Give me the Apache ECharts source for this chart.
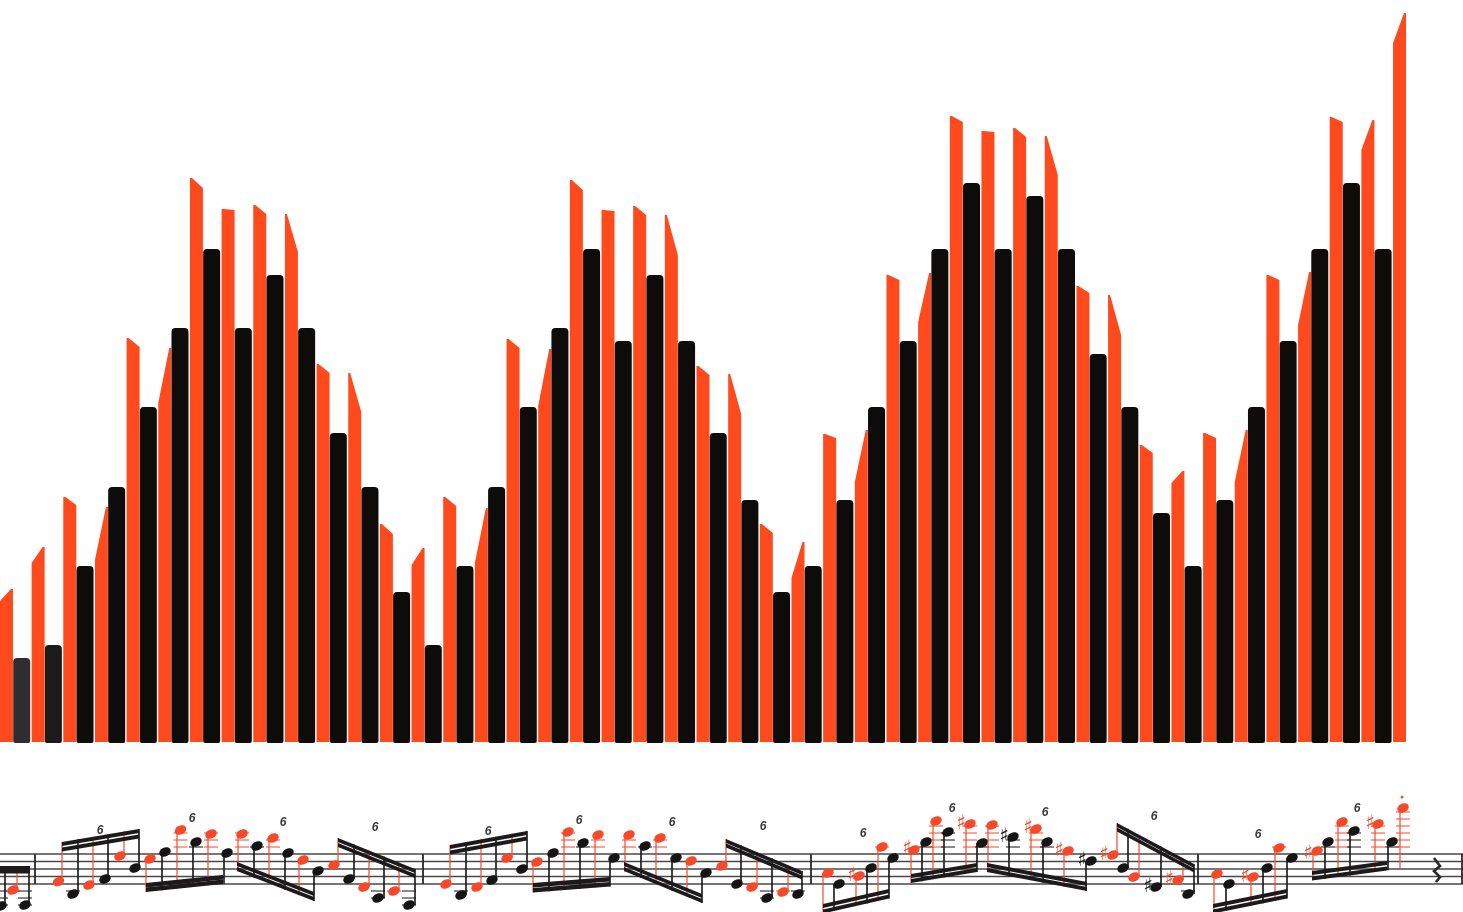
<!DOCTYPE html>
<html>
<head>
<meta charset="utf-8">
<style>
	html,body{margin:0;padding:0;background:#fff;}
	#chart{width:1463px;height:912px;}
</style>
<script src="https://cdn.jsdelivr.net/npm/echarts@6/dist/echarts.min.js"></script>
</head>
<body>
<div id="chart"></div>
<script>
	// bar heights. red notes are the odd voice, black the even one
	var redPeak = [154,196,246,236,405,395,565,534,538,529,379,370,219,195,246,235,404,394,563,533,537,528,377,369,219,201,309,313,468,470,627,612,615,607,457,448,298,272,310,313,468,471,626,623,730];
	var redShoulder = [142,180,238,183,396,340,555,533,529,491,370,331,209,178,237,180,395,337,553,532,528,488,368,329,210,165,305,261,463,421,621,611,606,568,450,408,290,260,305,261,463,418,621,593,700];
	// 1 = high corner on the left, -1 = on the right
	var redSide = [-1,-1,1,-1,1,-1,1,1,1,1,1,1,1,-1,1,-1,1,-1,1,1,1,1,1,1,1,-1,1,-1,1,-1,1,1,1,1,1,1,1,-1,1,-1,1,-1,1,-1,-1];
	var blackHeight = [85,98,177,256,336,415,494,415,468,415,310,256,151,98,177,256,336,415,494,402,468,402,310,243,151,177,243,336,402,494,560,494,547,494,389,336,230,177,243,336,402,494,560,494];

	// score under the bars: one list of [head x, head y, stem x] per beam, red note first
	var scoreNotes = [
		[[-11,895,-6],[1,906,5],[13,890,17],[25,905,29]],
		[[58.5,881.5,62],[73,894,78],[89,885,93],[105,879,108],[120,856,124],[135,868,139]],
		[[150,859,146],[165,852,162],[180.5,830,177],[196,842,193],[211,834,208],[227,853,224]],
		[[242,834,238],[257,846,254],[273,838,269],[288,853,285],[303,860,299],[318,871,314]],
		[[334,865,338],[349,879,354],[364,887,369],[378,898,384],[394,891,399],[409,905,415]],
		[[446,884,450],[461,895,466],[477,887,481],[492,880,496],[507,858,512],[522,869,527]],
		[[537,862,533],[553,853,549],[568,832,564],[583,843,580],[598,835,595],[614,858,610]],
		[[629,835,625],[645,846,641],[660,838,656],[676,858,672],[691,861,687],[706,873,702]],
		[[722,866,726],[737,884,741],[752,887,757],[767,898,772],[783,892,788],[798,894,802]],
		[[828,873,823],[839,884,834],[859,876,856],[871,868,867],[882,847,878],[893,858,889]],
		[[914,850,911],[926,842,922],[936,821,933],[948,832,944],[970,824,966],[982,843,977]],
		[[992,825,988],[1013,837,1009],[1036,829,1031],[1047,842,1043],[1068,851,1064],[1091,861,1086]],
		[[1113,855,1117],[1123,868,1128],[1134,877,1139],[1156,887,1161],[1178,880,1183],[1188,894,1194]],
		[[1217,874,1214],[1229,884,1226],[1253,877,1251],[1267,868,1263],[1279,848,1275],[1292,858,1287]],
		[[1317,851,1313],[1328,842,1325],[1342,822,1338],[1354,831,1350],[1378,824,1375],[1392,842,1388]],
		[[1403,808,1400]]
	];
	// [x1, y1, x2, y2, gap to second beam, thickness], same order as scoreNotes
	var scoreBeams = [
		[-8,866,30,866,3.5,4],
		[62,842,139,829,5.5,4],
		[146,883,223,875,4.5,4.4],
		[237,862,314,892,5,4],
		[338,838,415,869,5,4],
		[450,845,527,831,5.5,4],
		[533,883,610,877,5,4.4],
		[624,862,702,894,5,4],
		[726,839,802,871,4.5,4],
		[823,904,889,889,5.5,4],
		[911,874,977,863,5,4],
		[987,863,1087,882,5,4],
		[1117,823,1194,864,4.5,4],
		[1213,904,1287,889,5.5,4],
		[1312,871,1387,861,5.5,4],
		[1400,868,1400,868,0,0]
	];
	// [x, y, 0 red / 1 black]
	var sharps = [[852,876,0],[907,849,0],[961,824,0],[1004,837,1],[1028,828,0],[1059,851,0],[1082,861,1],[1104,855,0],[1148,887,1],[1169,880,0],[1245,877,0],[1308,854,0],[1370,824,0]];
	var tupletLabels = [[100,831],[192,819],[283,823],[375,828],[488,832],[579,821],[672,823],[763,827],[863,834],[952,809],[1045,813],[1154,817],[1258,835],[1357,809]];
	var staffLines = [854,861.5,869,876.5,884];
	var barLines = [35,423,811,1198,1462];
	var ledgersAbove = [847,840,833,826,819,812];
	var ledgersBelow = [891,898,905];
	var restPoints = [[1434,858],[1440,866],[1434,871],[1440,877],[1436,882]];
	var accentDot = [[1402,797]];

	var RED = '#ff4a1e';
	var BLACK = '#0e0b0b';
	var INK = ['#f6492a','#161414'];

	var categories = [];
	for(var c = 0; c < redPeak.length + blackHeight.length; c++){
		categories.push('note' + (c + 1));
	}

	var redData = [];
	for(var r = 0; r < redPeak.length; r++){
		redData.push([r * 2, redPeak[r], redShoulder[r]]);
	}
	var blackData = categories.map(function(name, idx){
		if(idx % 2 == 0) return null;
		var h = blackHeight[(idx - 1) / 2];
		// first two bars are printed lighter
		if(idx == 1) return {value: h, itemStyle: {color: '#2f2d30'}};
		if(idx == 3) return {value: h, itemStyle: {color: '#1c1a1b'}};
		return h;
	});

	function beamY(beam, x, lower){
		var t = beam[2] == beam[0] ? 0 : (x - beam[0]) / (beam[2] - beam[0]);
		return beam[1] + (beam[3] - beam[1]) * t + (lower ? beam[4] + beam[5] : 0);
	}

	var headData = [[],[]], stemData = [], ledgerData = [];
	scoreNotes.forEach(function(group, b){
		var beam = scoreBeams[b];
		group.forEach(function(n, i){
			var ink = i % 2;
			var stemsUp = n[1] > beamY(beam, n[2]);
			headData[ink].push([n[0], n[1]]);
			stemData.push([n[2], n[1], beamY(beam, n[2], !stemsUp), ink]);
			ledgersAbove.forEach(function(l){
				if(n[1] <= l + 1) ledgerData.push([n[0], l, ink]);
			});
			ledgersBelow.forEach(function(l){
				if(n[1] >= l - 1) ledgerData.push([n[0], l, ink]);
			});
		});
	});

	function scoreSeries(data, renderItem, z){
		return {
			type: 'custom',
			coordinateSystem: 'cartesian2d',
			xAxisIndex: 1,
			yAxisIndex: 1,
			silent: true,
			z: z || 3,
			data: data,
			renderItem: renderItem
		};
	}

	function lineShape(a, b, color, width){
		return {
			type: 'line',
			shape: {x1: a[0], y1: a[1], x2: b[0], y2: b[1]},
			style: {stroke: color, lineWidth: width}
		};
	}

	var option = {
		animation: false,
		backgroundColor: '#fff',
		grid: [
			{left: -2.05, top: 0, width: 1408.9, height: 743, outerBoundsMode: 'none'},
			{left: 0, top: 790, width: 1463, height: 122, outerBoundsMode: 'none'}
		],
		xAxis: [
			{type: 'category', gridIndex: 0, data: categories, show: false},
			{type: 'value', gridIndex: 1, min: 0, max: 1463, show: false}
		],
		yAxis: [
			{type: 'value', gridIndex: 0, min: 0, max: 743, show: false},
			{type: 'value', gridIndex: 1, min: 790, max: 912, inverse: true, show: false}
		],
		series: [
			{
				// red bars have a slanted tip, the normal bar has no such shape
				type: 'custom',
				coordinateSystem: 'cartesian2d',
				xAxisIndex: 0,
				yAxisIndex: 0,
				silent: true,
				z: 2,
				data: redData,
				renderItem: function(params, api){
					var side = redSide[params.dataIndex];
					var peak = api.coord([api.value(0), api.value(1)]);
					var shoulder = api.coord([api.value(0), api.value(2)]);
					var base = api.coord([api.value(0), 1]);
					var cx = peak[0] + 0.6;
					var high = cx - side * 6.5, low = cx + side * 6.5;
					return {
						type: 'polygon',
						shape: {points: [
							[high, base[1]],
							[high, peak[1]],
							[high + side * 2, peak[1]],
							[low, shoulder[1]],
							[low, base[1]]
						]},
						style: {fill: RED}
					};
				}
			},
			{
				type: 'bar',
				xAxisIndex: 0,
				yAxisIndex: 0,
				silent: true,
				z: 3,
				barWidth: 17,
				itemStyle: {color: BLACK, borderRadius: [4,4,2,2]},
				data: blackData
			},
			scoreSeries(staffLines.map(function(y){ return [y]; }), function(params, api){
				var y = api.value(0);
				return lineShape(api.coord([0, y]), api.coord([1463, y]), '#4a4848', 1.4);
			}, 2),
			scoreSeries(barLines.map(function(x){ return [x]; }), function(params, api){
				var x = api.value(0);
				return lineShape(api.coord([x, staffLines[0]]), api.coord([x, staffLines[4]]), '#2a2828', 1.8);
			}, 2),
			scoreSeries(ledgerData, function(params, api){
				var x = api.value(0), y = api.value(1);
				return lineShape(api.coord([x - 7, y]), api.coord([x + 7, y]), INK[api.value(2)], 1);
			}),
			scoreSeries(stemData, function(params, api){
				var ink = api.value(3), x = api.value(0);
				return lineShape(api.coord([x, api.value(1)]), api.coord([x, api.value(2)]), INK[ink], ink ? 1.6 : 1.2);
			}),
			scoreSeries(scoreBeams, function(params, api){
				var x1 = api.value(0), y1 = api.value(1), x2 = api.value(2), y2 = api.value(3);
				var gap = api.value(4), thick = api.value(5);
				function bar(off){
					return {
						type: 'polygon',
						shape: {points: [
							api.coord([x1, y1 + off]),
							api.coord([x2, y2 + off]),
							api.coord([x2, y2 + off + thick]),
							api.coord([x1, y1 + off + thick])
						]},
						style: {fill: '#1c1a1a'}
					};
				}
				return {type: 'group', children: [bar(0), bar(gap)]};
			}, 4),
			{
				type: 'scatter', xAxisIndex: 1, yAxisIndex: 1, silent: true, z: 5,
				symbol: 'circle', symbolSize: [12,9], symbolRotate: 25,
				itemStyle: {color: INK[0], opacity: 1},
				data: headData[0]
			},
			{
				type: 'scatter', xAxisIndex: 1, yAxisIndex: 1, silent: true, z: 5,
				symbol: 'circle', symbolSize: [12,9], symbolRotate: 25,
				itemStyle: {color: INK[1], opacity: 1},
				data: headData[1]
			},
			{
				type: 'scatter', xAxisIndex: 1, yAxisIndex: 1, silent: true, z: 5,
				symbol: 'circle', symbolSize: 3,
				itemStyle: {color: INK[0], opacity: 1},
				data: accentDot
			},
			scoreSeries(sharps, function(params, api){
				var p = api.coord([api.value(0), api.value(1)]);
				return {
					type: 'text',
					style: {
						x: p[0], y: p[1], text: '♯',
						fill: INK[api.value(2)],
						font: 'bold 20px "DejaVu Sans"',
						align: 'center', verticalAlign: 'middle'
					}
				};
			}, 5),
			scoreSeries(tupletLabels, function(params, api){
				var p = api.coord([api.value(0), api.value(1)]);
				return {
					type: 'text',
					style: {
						x: p[0], y: p[1], text: '6',
						fill: '#3c3a3c',
						font: 'italic bold 12px "Liberation Sans"',
						align: 'center', verticalAlign: 'middle'
					}
				};
			}, 5),
			scoreSeries([[0]], function(params, api){
				return {
					type: 'polyline',
					shape: {points: restPoints.map(function(p){ return api.coord(p); })},
					style: {stroke: '#2a2828', lineWidth: 2.6, fill: null}
				};
			}, 5)
		]
	};

	var myChart = echarts.init(document.getElementById('chart'), null, {renderer: 'canvas'});
	myChart.setOption(option);
</script>
</body>
</html>
